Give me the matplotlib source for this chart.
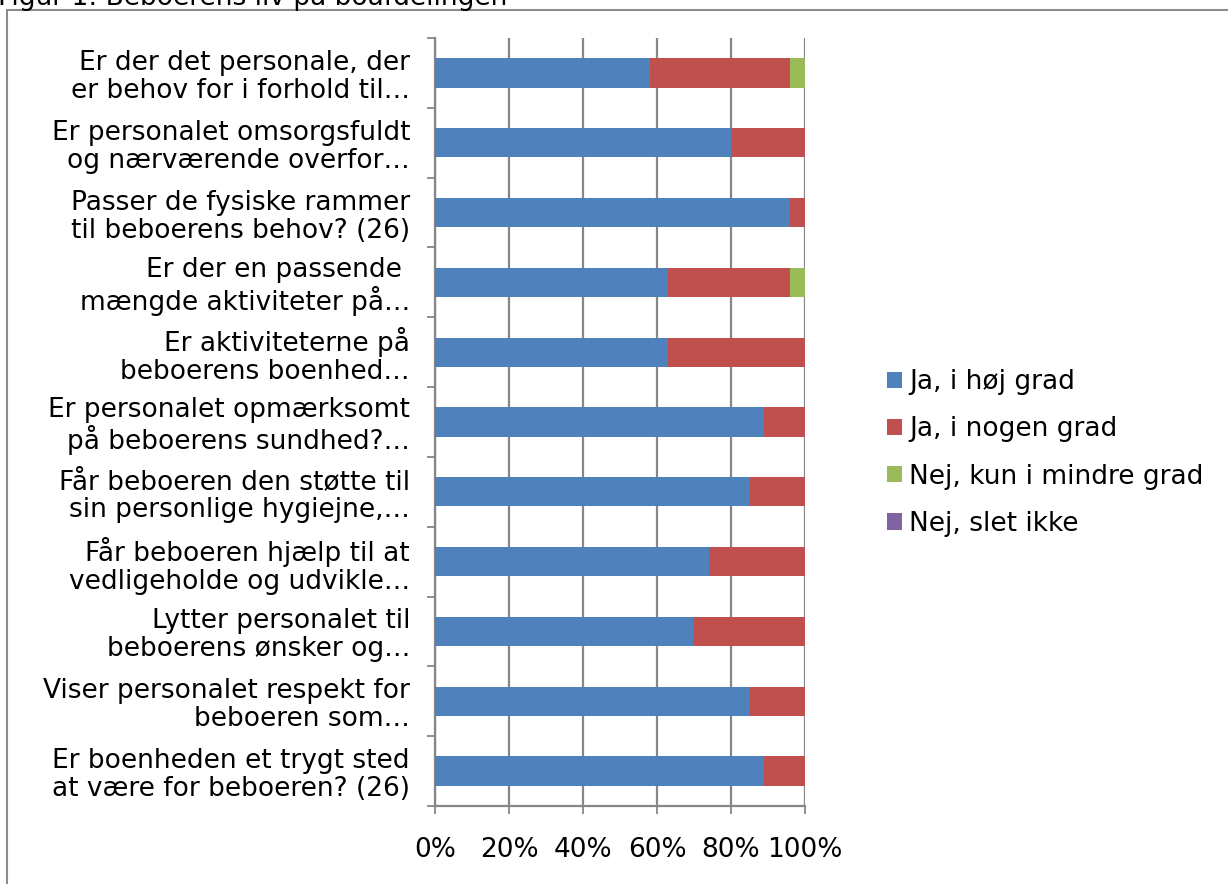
import matplotlib
matplotlib.use("Agg")
import matplotlib.pyplot as plt
from matplotlib.patches import Rectangle
import numpy as np

plt.rcParams['font.family'] = ['DejaVu Sans']

categories = [
    "Er der det personale, der\ner behov for i forhold til…",
    "Er personalet omsorgsfuldt\nog nærværende overfor…",
    "Passer de fysiske rammer\ntil beboerens behov? (26)",
    "Er der en passende \nmængde aktiviteter på…",
    "Er aktiviteterne på\nbeboerens boenhed…",
    "Er personalet opmærksomt\npå beboerens sundhed?…",
    "Får beboeren den støtte til\nsin personlige hygiejne,…",
    "Får beboeren hjælp til at\nvedligeholde og udvikle…",
    "Lytter personalet til\nbeboerens ønsker og…",
    "Viser personalet respekt for\nbeboeren som…",
    "Er boenheden et trygt sted\nat være for beboeren? (26)",
]
series_names = ["Ja, i høj grad", "Ja, i nogen grad", "Nej, kun i mindre grad", "Nej, slet ikke"]
ja_hoej = [58, 80, 96, 63, 63, 89, 85, 74, 70, 85, 89]
ja_nogen = [38, 20, 4, 33, 37, 11, 15, 26, 30, 15, 11]
nej_mindre = [4, 0, 0, 4, 0, 0, 0, 0, 0, 0, 0]
nej_slet = [0, 0, 0, 0, 0, 0, 0, 0, 0, 0, 0]
colors = ["#4F81BD", "#C0504D", "#9BBB59", "#8064A2"]
xtick_labels = ["0%", "20%", "40%", "60%", "80%", "100%"]

W, H = 1228, 884
fig = plt.figure(figsize=(W / 100, H / 100), dpi=100)

# outer frame
fig.patches.append(Rectangle((7 / W, -0.01), 1.5, 1 - 10 / H + 0.01, transform=fig.transFigure,
                             fill=False, edgecolor="#8C8C8C", linewidth=1.5))
fig.text(-2 / W, 1 - 5 / H, "Figur 1: Beboerens liv på boafdelingen", fontsize=19,
         ha="left", va="baseline", color="#000000")

ax = fig.add_axes([435 / W, 1 - 806 / H, 370 / W, (806 - 38) / H])

n = len(categories)
ypos = np.arange(n)[::-1]
left = np.zeros(n)
for vals, name, col in zip([ja_hoej, ja_nogen, nej_mindre, nej_slet], series_names, colors):
    v = np.array(vals, dtype=float)
    ax.barh(ypos, v, left=left, height=0.42, color=col, label=name, zorder=3)
    left += v

ax.set_xlim(0, 100)
ax.set_ylim(-0.5, n - 0.5)
ax.set_xticks(np.arange(0, 101, 20))
ax.set_xticklabels(xtick_labels, fontsize=19)
ax.xaxis.grid(True, color="#868686", linewidth=1.6, zorder=0)
ax.set_axisbelow(True)

ax.set_yticks(ypos)
ax.set_yticklabels(categories, fontsize=19, linespacing=1.1, ha="right")
ax.set_yticks(np.arange(-0.5, n, 1.0), minor=True)
ax.tick_params(axis="y", which="major", length=0, pad=18)
ax.tick_params(axis="y", which="minor", length=6, width=1.3, color="#868686", direction="out")
ax.tick_params(axis="x", length=6, width=1.3, color="#868686", direction="out", pad=16)

for s in ["top", "right"]:
    ax.spines[s].set_visible(False)
for s in ["left", "bottom"]:
    ax.spines[s].set_color("#868686")
    ax.spines[s].set_linewidth(1.6)

handles, labels = ax.get_legend_handles_labels()
leg = fig.legend(handles, labels, loc="center left", bbox_to_anchor=(887 / W, 1 - 453 / H),
                 frameon=False, fontsize=19, handlelength=0.58, handleheight=0.58,
                 handletextpad=0.25, labelspacing=0.8, borderaxespad=0, borderpad=0)

fig.savefig("out.png", dpi=100)
